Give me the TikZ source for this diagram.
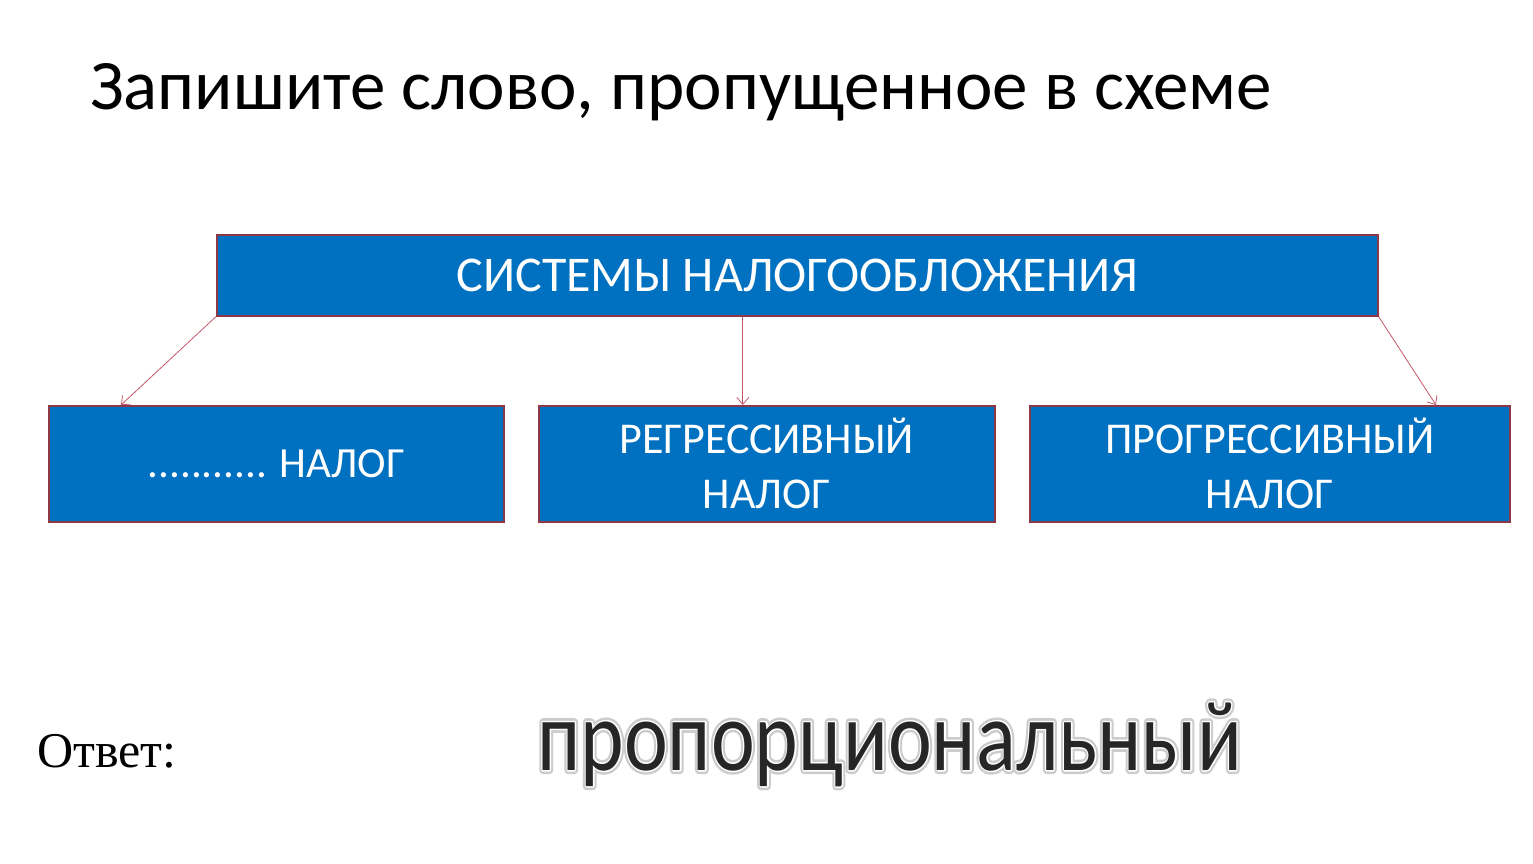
\documentclass[tikz,border=0pt]{standalone}
\usepackage{fontspec}
\setmainfont{Carlito}
\newfontfamily\serifru{Liberation Serif}
\newfontfamily\haloA[FakeBold=8]{Carlito}
\newfontfamily\haloB[FakeBold=3]{Carlito}
\usetikzlibrary{arrows.meta}
\definecolor{boxblue}{RGB}{0,112,192}
\definecolor{boxedge}{RGB}{140,56,72}
\definecolor{arrcol}{RGB}{196,88,104}
\newcommand{\answord}{пропорциональный}
\tikzset{
  box/.style={draw=boxedge, line width=1.6pt, fill=boxblue, text=white, anchor=north west,
    inner sep=0pt, align=center, font=\fontsize{44}{55}\selectfont},
  arr/.style={draw=arrcol, line width=0.8pt, -{Straight Barb[length=7pt,width=12pt]}},
}
\begin{document}
\begin{tikzpicture}[x=1pt,y=-1pt]
\useasboundingbox (0,0) rectangle (1533,864);
\fill[white] (0,0) rectangle (1533,864);
% title
\node[anchor=base west, inner sep=0pt, font=\fontsize{71}{80}\selectfont] (title) at (90,110) {Запишите слово, пропущенное в схеме};
% boxes
\node[box, minimum width=1161pt, minimum height=81pt, font=\fontsize{50}{55}\selectfont] (top) at (216,234) {СИСТЕМЫ НАЛОГООБЛОЖЕНИЯ};
\node[box, minimum width=455pt, minimum height=116pt, font=\fontsize{43}{55}\selectfont] (left) at (48,405) {........... НАЛОГ};
\node[box, minimum width=456pt, minimum height=116pt] (mid) at (538,405) {РЕГРЕССИВНЫЙ\\НАЛОГ};
\node[box, minimum width=480pt, minimum height=116pt] (right) at (1029,405) {ПРОГРЕССИВНЫЙ\\НАЛОГ};
% connectors
\coordinate (lend) at ([xshift=73pt]left.north west);
\coordinate (mend) at ([xshift=-24pt]mid.north);
\coordinate (rend) at ([xshift=407pt]right.north west);
\draw[arr] (top.south west) -- (lend);
\draw[arr] (mend |- top.south) -- (mend);
\draw[arr] (top.south east) -- (rend);
% answer label
\node[anchor=base west, inner sep=0pt, font=\serifru\fontsize{50}{60}\selectfont] (otvet) at (37,767) {Ответ:};
% answer word with halo
\begin{scope}[line join=round]
\node[anchor=base west, inner sep=0pt] (answer) at (537,770) {\special{pdf:literal direct 1 j 0 J}\scalebox{0.83}[1]{\fontsize{100}{110}\selectfont
  \rlap{\color{black!20}\haloA\answord}\rlap{\color{white}\haloB\answord}{\color{black!85}\answord}}};
\end{scope}
\end{tikzpicture}
\end{document}
